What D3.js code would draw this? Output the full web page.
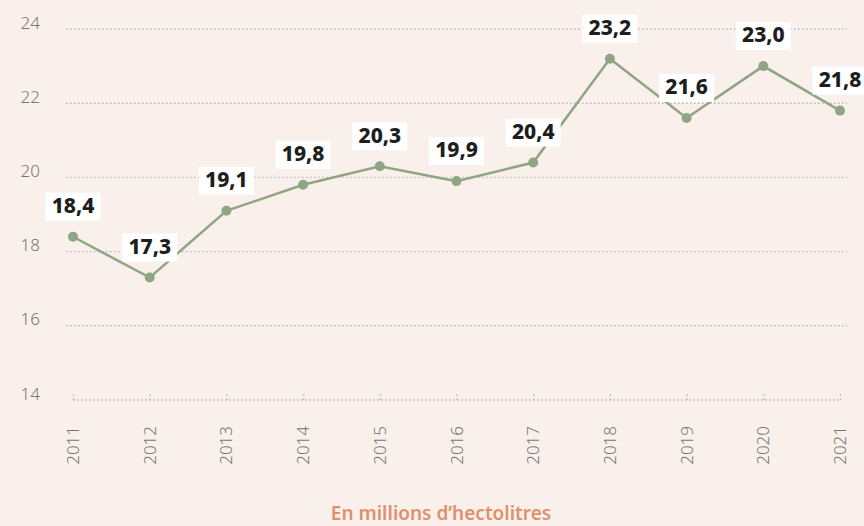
<!DOCTYPE html>
<html>
<head>
<meta charset="utf-8">
<script src="https://cdn.jsdelivr.net/npm/d3@7"></script>
<style>
    html, body { margin: 0; padding: 0; background: #f9f0ec; }
    svg { display: block; font-family: "Noto Sans", "Open Sans", sans-serif; }
</style>
</head>
<body>
<div id="chart"></div>
<script>
const years = ["2011", "2012", "2013", "2014", "2015", "2016", "2017", "2018", "2019", "2020", "2021"];
const volumes = [18.4, 17.3, 19.1, 19.8, 20.3, 19.9, 20.4, 23.2, 21.6, 23.0, 21.8];
const yTicks = [14, 16, 18, 20, 22, 24];
const unitLabel = "En millions d\u2019hectolitres";

const width = 864, height = 526;
const padding = { l: 73, r: 24, t: 29, b: 126 };

const x = d3.scalePoint()
    .domain(years)
    .range([ padding.l, width - padding.r ]);

const y = d3.scaleLinear()
    .domain([ 14, 24 ])
    .range([ height - padding.b, padding.t ]);

const svg = d3.select("#chart")
    .append("svg")
    .attr("width", width)
    .attr("height", height);

svg.append("rect")
    .attr("width", width)
    .attr("height", height)
    .attr("fill", "#f9f0ec");

// horizontal dotted grid
const grid = svg.append("g").attr("class", "grid");

grid.selectAll("line")
    .data(yTicks.filter(t => t !== 14))
    .join("line")
    .attr("x1", 66)
    .attr("x2", width - 17)
    .attr("y1", d => y(d))
    .attr("y2", d => y(d))
    .attr("stroke", "#bdb5b2")
    .attr("stroke-width", 1.4)
    .attr("stroke-dasharray", "1.5,2.5");

// y labels
svg.append("g")
    .selectAll("text")
    .data(yTicks)
    .join("text")
    .attr("x", 40)
    .attr("y", d => y(d) - 5)
    .attr("text-anchor", "end")
    .attr("dominant-baseline", "middle")
    .attr("fill", "#7a7472")
    .style("font-size", "17px")
    .style("font-weight", 300)
    .text(d => d);

// x axis, dotted with small ticks
const xAxis = d3.axisBottom(x).tickSize(-7).tickFormat("");

const xg = svg.append("g")
    .attr("transform", `translate(0, ${y(14)})`)
    .call(xAxis);

xg.select(".domain").remove();
xg.selectAll(".tick line")
    .attr("stroke", "#bdb5b2")
    .attr("stroke-width", 1.4)
    .attr("stroke-dasharray", "1.5,2.5");

xg.append("line")
    .attr("x1", x(years[0]))
    .attr("x2", x(years[years.length - 1]))
    .attr("stroke", "#bdb5b2")
    .attr("stroke-width", 1.4)
    .attr("stroke-dasharray", "1.5,2.5");

svg.append("g")
    .selectAll("text")
    .data(years)
    .join("text")
    .attr("transform", d => `translate(${x(d) + 6}, 426) rotate(-90)`)
    .attr("text-anchor", "end")
    .attr("fill", "#7a7472")
    .style("font-size", "17px")
    .style("font-weight", 300)
    .text(d => d);

// line + points
const points = years.map((year, i) => ({ year, value: volumes[i] }));

const line = d3.line()
    .x(d => x(d.year))
    .y(d => y(d.value));

svg.append("path")
    .datum(points)
    .attr("d", line)
    .attr("fill", "none")
    .attr("stroke", "#8fa583")
    .attr("stroke-width", 2.5);

svg.append("g")
    .selectAll("circle")
    .data(points)
    .join("circle")
    .attr("cx", d => x(d.year))
    .attr("cy", d => y(d.value))
    .attr("r", 5)
    .attr("fill", "#8fa583");

// value labels in white boxes
const fmt = d => d.toFixed(1).replace(".", ",");

const labels = svg.append("g")
    .selectAll("g")
    .data(points)
    .join("g")
    .attr("transform", d => `translate(${x(d.year)}, ${y(d.value) - 30})`);

labels.append("rect")
    .attr("x", -27.5)
    .attr("y", -14)
    .attr("width", 55)
    .attr("height", 28)
    .attr("fill", "#ffffff");

labels.append("text")
    .attr("text-anchor", "middle")
    .attr("dy", "0.3em")
    .attr("fill", "#1e1e1e")
    .style("font-size", "21px")
    .style("font-weight", 800)
    .text(d => fmt(d.value));

svg.append("text")
    .attr("x", 441)
    .attr("y", 520)
    .attr("text-anchor", "middle")
    .attr("fill", "#e0906c")
    .style("font-size", "19px")
    .style("font-weight", 600)
    .text(unitLabel);
</script>
</body>
</html>
